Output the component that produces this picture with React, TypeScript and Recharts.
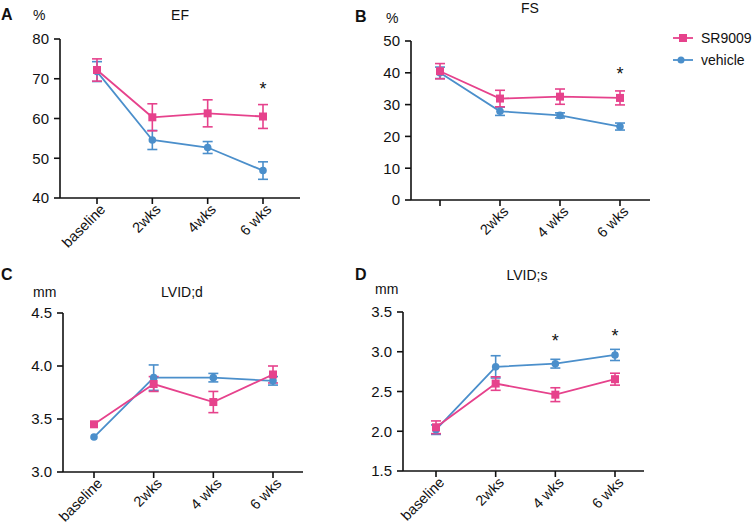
import React from "react";
import { LineChart, Line, XAxis, YAxis, ErrorBar } from "recharts";

const PINK = "#E6428C";
const BLUE = "#4B8FCB";
const FONT = "'Liberation Sans', Arial, Helvetica, sans-serif";

// panel A - EF (%)
const catsA = ["baseline", "2wks", "4wks", "6 wks"];
const srEF = [72.2, 60.3, 61.3, 60.5];
const srEFErr = [2.8, 3.4, 3.4, 3.0];
const vehEF = [71.8, 54.6, 52.7, 46.9];
const vehEFErr = [2.5, 2.4, 1.5, 2.2];
const starEF = [null, null, null, 68];
const ticksEF = [40, 50, 60, 70, 80];

// panel B - FS (%)
const catsB = ["", "2wks", "4 wks", "6 wks"];
const srFS = [40.5, 31.9, 32.5, 32.1];
const srFSErr = [2.4, 2.6, 2.4, 2.2];
const vehFS = [40.0, 27.9, 26.6, 23.1];
const vehFSErr = [1.8, 1.3, 0.8, 1.1];
const starFS = [null, null, null, 40.1];
const ticksFS = [0, 10, 20, 30, 40, 50];

// panel C - LVID;d (mm)
const catsC = ["baseline", "2wks", "4 wks", "6 wks"];
const srLVIDd = [3.45, 3.83, 3.66, 3.92];
const srLVIDdErr = [null, 0.07, 0.1, 0.08];
const vehLVIDd = [3.33, 3.89, 3.89, 3.86];
const vehLVIDdErr = [null, 0.12, 0.04, 0.04];
const starLVIDd = [null, null, null, null];
const ticksLVIDd = [3.0, 3.5, 4.0, 4.5];

// panel D - LVID;s (mm)
const catsD = ["baseline", "2wks", "4 wks", "6 wks"];
const srLVIDs = [2.05, 2.6, 2.46, 2.655];
const srLVIDsErr = [0.08, 0.085, 0.087, 0.075];
const vehLVIDs = [2.02, 2.81, 2.85, 2.96];
const vehLVIDsErr = [0.06, 0.14, 0.055, 0.07];
const starLVIDs = [null, null, 3.16, 3.22];
const ticksLVIDs = [1.5, 2.0, 2.5, 3.0, 3.5];

function buildRows(cats: string[], sr: number[], srErr: any[], veh: number[], vehErr: any[], star: any[]) {
  return cats.map((c, i) => ({
    cat: c,
    sr: sr[i],
    srErr: srErr[i],
    veh: veh[i],
    vehErr: vehErr[i],
    star: star[i],
  }));
}

const SquareDot = (props: any) => {
  const { cx, cy, key } = props;
  if (cx == null || cy == null) return <g key={key} />;
  return <rect key={key} x={cx - 4} y={cy - 4} width={8} height={8} fill={PINK} />;
};

const CircleDot = (props: any) => {
  const { cx, cy, key } = props;
  if (cx == null || cy == null) return <g key={key} />;
  return <circle key={key} cx={cx} cy={cy} r={3.8} fill={BLUE} />;
};

const StarDot = (props: any) => {
  const { cx, cy, key, value } = props;
  if (cx == null || cy == null || value == null) return <g key={key} />;
  return (
    <text key={key} x={cx} y={cy + 8} textAnchor="middle" fontSize={18} fontFamily={FONT} fill="#111">
      *
    </text>
  );
};

const RotTick = (props: any) => {
  const { x, y, payload } = props;
  return (
    <g transform={`translate(${x + 2},${y - 3})`}>
      <text x={0} y={0} dy="0.71em" textAnchor="end" transform="rotate(-45)" fontSize={14.5} fontFamily={FONT} fill="#111">
        {payload.value}
      </text>
    </g>
  );
};

interface PanelProps {
  left: number;
  top: number;
  width: number;
  height: number;
  margin: any;
  yWidth: number;
  pad: any;
  domain: number[];
  ticks: number[];
  decimals: number;
  rows: any[];
}

function Panel({ left, top, width, height, margin, yWidth, pad, domain, ticks, decimals, rows }: PanelProps) {
  return (
    <div style={{ position: "absolute", left, top }}>
      <LineChart width={width} height={height} data={rows} margin={margin}>
        <XAxis
          dataKey="cat"
          interval={0}
          height={30}
          padding={pad}
          stroke="#111"
          strokeWidth={1.6}
          tickSize={6}
          tick={<RotTick />}
        />
        <YAxis
          width={yWidth}
          domain={domain}
          ticks={ticks}
          type="number"
          allowDataOverflow
          stroke="#111"
          strokeWidth={1.6}
          tickSize={6}
          tickMargin={5}
          tickFormatter={(v: number) => v.toFixed(decimals)}
          tick={{ fontSize: 15, fill: "#111", fontFamily: FONT }}
        />
        <Line dataKey="veh" stroke={BLUE} strokeWidth={1.8} dot={<CircleDot />} isAnimationActive={false}>
          <ErrorBar dataKey="vehErr" width={5} stroke={BLUE} strokeWidth={1.6} direction="y" />
        </Line>
        <Line dataKey="sr" stroke={PINK} strokeWidth={1.8} dot={<SquareDot />} isAnimationActive={false}>
          <ErrorBar dataKey="srErr" width={5} stroke={PINK} strokeWidth={1.6} direction="y" />
        </Line>
        <Line dataKey="star" stroke="none" dot={<StarDot />} activeDot={false} isAnimationActive={false} />
      </LineChart>
    </div>
  );
}

const txt = (x: number, y: number, s: string, size: number, bold = false, anchor = "start") => (
  <div
    style={{
      position: "absolute",
      left: anchor === "middle" ? x - 100 : x,
      top: y - size * 0.6,
      width: anchor === "middle" ? 200 : undefined,
      textAlign: anchor === "middle" ? "center" : "left",
      fontSize: size,
      fontWeight: bold ? "bold" : "normal",
      fontFamily: FONT,
      color: "#111",
      lineHeight: 1.2,
      whiteSpace: "nowrap",
    }}
  >
    {s}
  </div>
);

export default function App() {
  return (
    <div style={{ position: "absolute", left: 0, top: 0, width: 754, height: 524, background: "#fff" }}>
      <Panel
        left={0}
        top={0}
        width={320}
        height={260}
        margin={{ top: 39, right: 20, bottom: 32, left: 10 }}
        yWidth={50}
        pad={{ left: 37, right: 37 }}
        domain={[40, 80]}
        ticks={ticksEF}
        decimals={0}
        rows={buildRows(catsA, srEF, srEFErr, vehEF, vehEFErr, starEF)}
      />
      <Panel
        left={330}
        top={0}
        width={330}
        height={260}
        margin={{ top: 41, right: 10, bottom: 30, left: 31 }}
        yWidth={50}
        pad={{ left: 29, right: 30 }}
        domain={[0, 50]}
        ticks={ticksFS}
        decimals={0}
        rows={buildRows(catsB, srFS, srFSErr, vehFS, vehFSErr, starFS)}
      />
      <Panel
        left={0}
        top={260}
        width={320}
        height={264}
        margin={{ top: 53, right: 17, bottom: 22, left: 13 }}
        yWidth={50}
        pad={{ left: 31, right: 30 }}
        domain={[3.0, 4.5]}
        ticks={ticksLVIDd}
        decimals={1}
        rows={buildRows(catsC, srLVIDd, srLVIDdErr, vehLVIDd, vehLVIDdErr, starLVIDd)}
      />
      <Panel
        left={330}
        top={260}
        width={330}
        height={264}
        margin={{ top: 52, right: 16, bottom: 23, left: 23 }}
        yWidth={50}
        pad={{ left: 33, right: 29 }}
        domain={[1.5, 3.5]}
        ticks={ticksLVIDs}
        decimals={1}
        rows={buildRows(catsD, srLVIDs, srLVIDsErr, vehLVIDs, vehLVIDsErr, starLVIDs)}
      />

      {txt(1, 15, "A", 16, true)}
      {txt(33, 15, "%", 14)}
      {txt(180, 15, "EF", 14, false, "middle")}

      {txt(355, 17, "B", 16, true)}
      {txt(386, 18, "%", 14)}
      {txt(530, 8, "FS", 14, false, "middle")}

      {txt(1, 275, "C", 16, true)}
      {txt(33, 292, "mm", 14)}
      {txt(182, 292, "LVID;d", 14, false, "middle")}

      {txt(355, 275, "D", 16, true)}
      {txt(375, 289, "mm", 14)}
      {txt(527, 275, "LVID;s", 14, false, "middle")}

      <svg style={{ position: "absolute", left: 660, top: 28 }} width={94} height={44}>
        <line x1={13} y1={10} x2={33} y2={10} stroke={PINK} strokeWidth={1.8} />
        <rect x={19} y={6} width={8} height={8} fill={PINK} />
        <text x={41} y={15} fontSize={14} fontFamily={FONT} fill="#111">SR9009</text>
        <line x1={13} y1={32} x2={33} y2={32} stroke={BLUE} strokeWidth={1.8} />
        <circle cx={21} cy={32} r={3.5} fill={BLUE} />
        <text x={41} y={37} fontSize={14} fontFamily={FONT} fill="#111">vehicle</text>
      </svg>
    </div>
  );
}
